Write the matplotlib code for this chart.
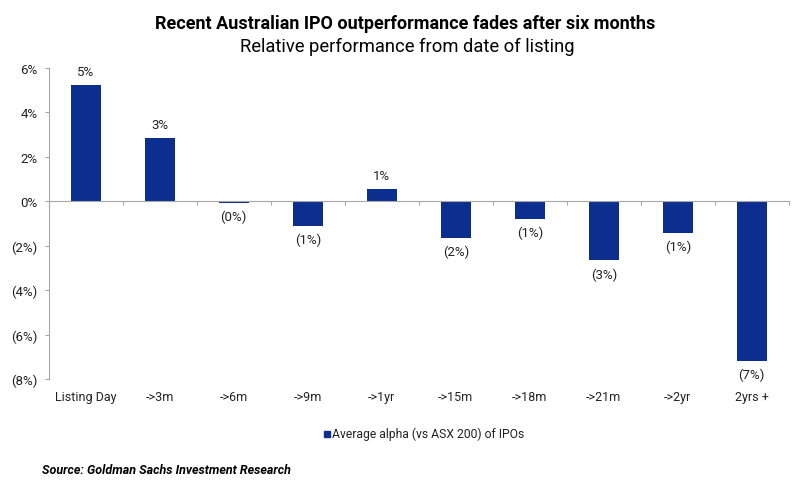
import matplotlib
matplotlib.use("Agg")
import matplotlib.pyplot as plt
from matplotlib.patches import Rectangle

categories = ["Listing Day", "->3m", "->6m", "->9m", "->1yr", "->15m", "->18m", "->21m", "->2yr", "2yrs +"]
values = [5.22, 2.84, -0.08, -1.11, 0.57, -1.64, -0.80, -2.66, -1.41, -7.18]
yticks = [6, 4, 2, 0, -2, -4, -6, -8]
series_name = "Average alpha (vs ASX 200) of IPOs"
title = "Recent Australian IPO outperformance fades after six months"
subtitle = "Relative performance from date of listing"
source = "Source: Goldman Sachs Investment Research"

plt.rcParams['font.family'] = ['Roboto', 'DejaVu Sans']
BAR = '#0B2E8F'
TXT = '#222222'
AX = '#A6A6A6'

fig = plt.figure(figsize=(8, 4.89), dpi=100)
ax = fig.add_axes([0.061, 0.223, 0.925, 0.636])

x = list(range(len(categories)))
ax.bar(x, values, width=0.4, color=BAR, zorder=3)
ax.set_xlim(-0.5, len(categories) - 0.5)
ax.set_ylim(-8, 6)

def fmt(v):
    r = int(round(abs(v)))
    return f"{r}%" if v >= 0 else f"({r}%)"

ax.set_yticks(yticks)
ax.set_yticklabels([fmt(t) if t != 0 else "0%" for t in yticks], fontsize=9.5, color=TXT)
ax.tick_params(axis='y', length=3, width=0.8, color=AX, pad=5)

for s in ['top', 'right']:
    ax.spines[s].set_visible(False)
ax.spines['left'].set_color(AX)
ax.spines['left'].set_linewidth(0.8)
ax.spines['bottom'].set_position(('data', 0))
ax.spines['bottom'].set_color(AX)
ax.spines['bottom'].set_linewidth(0.8)
ax.spines['bottom'].set_zorder(4)
ax.set_xticks([i + 0.5 for i in x])
ax.set_xticklabels([])
ax.tick_params(axis='x', length=3, width=0.8, color=AX, direction='out')

# category labels at bottom
for i, c in zip(x, categories):
    ax.text(i, -0.055, c, transform=ax.get_xaxis_transform(), ha='center', va='center',
            fontsize=9, color=TXT)

# data labels
for i, v in zip(x, values):
    if v >= 0:
        ax.annotate(fmt(v), (i, v), xytext=(0, 5), textcoords='offset points',
                    ha='center', va='bottom', fontsize=9.5, color=TXT)
    else:
        ax.annotate(fmt(v), (i, v), xytext=(0, -5), textcoords='offset points',
                    ha='center', va='top', fontsize=9.5, color=TXT)

fig.text(0.506, 0.951, title, ha='center', va='center', fontsize=13, fontweight='bold', color='black')
fig.text(0.509, 0.903, subtitle, ha='center', va='center', fontsize=13.2, color='black')

# legend
fig.patches.append(Rectangle((324 / 800, 1 - 437.5 / 489), 6 / 800, 6 / 489,
                             transform=fig.transFigure, color=BAR, figure=fig))
fig.text(332 / 800, 1 - 434.5 / 489, series_name, ha='left', va='center', fontsize=8.7, color=TXT)

fig.text(42 / 800, 1 - 471 / 489, source, ha='left', va='center', fontsize=9,
         fontweight='bold', fontstyle='italic', color='black')

fig.savefig("out.png", dpi=100, facecolor='white')
